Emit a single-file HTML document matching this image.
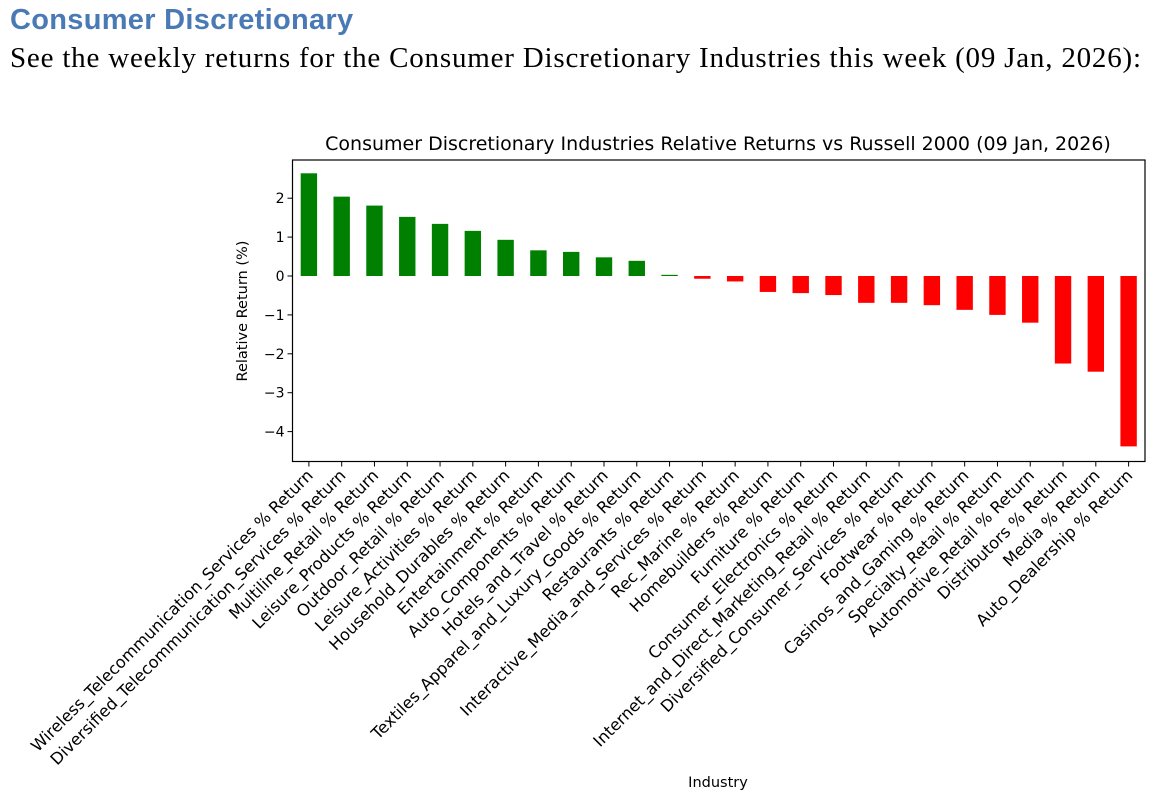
<!DOCTYPE html>
<html><head><meta charset="utf-8"><style>
body{margin:0;background:#fff;width:1150px;height:793px;overflow:hidden;}
h1{position:absolute;left:10px;top:4px;margin:0;font:bold 29px "Liberation Sans",sans-serif;color:#4a7ab5;letter-spacing:0.3px;}
p{position:absolute;left:10px;top:42px;margin:0;font:29px "Liberation Serif",serif;color:#000;letter-spacing:0.8px;white-space:nowrap;}
svg{position:absolute;left:0;top:0;}
text{font-family:"DejaVu Sans","Liberation Sans",sans-serif;}
</style></head><body>
<h1>Consumer Discretionary</h1>
<p>See the weekly returns for the Consumer Discretionary Industries this week (09 Jan, 2026):</p>
<svg id="chart" width="1150" height="793"></svg>
<script>
const categories=["Wireless_Telecommunication_Services % Return","Diversified_Telecommunication_Services % Return","Multiline_Retail % Return","Leisure_Products % Return","Outdoor_Retail % Return","Leisure_Activities % Return","Household_Durables % Return","Entertainment % Return","Auto_Components % Return","Hotels_and_Travel % Return","Textiles_Apparel_and_Luxury_Goods % Return","Restaurants % Return","Interactive_Media_and_Services % Return","Rec_Marine % Return","Homebuilders % Return","Furniture % Return","Consumer_Electronics % Return","Internet_and_Direct_Marketing_Retail % Return","Diversified_Consumer_Services % Return","Footwear % Return","Casinos_and_Gaming % Return","Specialty_Retail % Return","Automotive_Retail % Return","Distributors % Return","Media % Return","Auto_Dealership % Return"];
const values=[2.64,2.04,1.81,1.52,1.34,1.16,0.93,0.66,0.62,0.48,0.39,0.03,-0.07,-0.14,-0.41,-0.44,-0.49,-0.69,-0.69,-0.75,-0.87,-1.0,-1.2,-2.25,-2.46,-4.38];
const yTicks=[2,1,0,-1,-2,-3,-4];
const yTickLabels=["2","1","0","\u22121","\u22122","\u22123","\u22124"];
const NS="http://www.w3.org/2000/svg";
const svg=document.getElementById('chart');
const L=292.5,R=1145,T=160,B=461.5;
const y=v=>276-v*38.9;
const x=i=>L+(i+0.5)/26*(R-L);
const bw=(R-L)/26*0.5;
function mk(t,a){const e=document.createElementNS(NS,t);for(const k in a)e.setAttribute(k,a[k]);svg.appendChild(e);return e;}
values.forEach((v,i)=>{
 const r=mk('rect',{x:x(i)-bw/2,y:Math.min(y(v),y(0)),width:bw,height:Math.max(Math.abs(y(v)-y(0)),0.8),fill:v>=0?'#008000':'#ff0000'});
 
 
 mk('line',{x1:x(i),x2:x(i),y1:B,y2:B+5,stroke:'#000','stroke-width':1});
 const t=mk('text',{x:0,y:0,'text-anchor':'end','font-size':'16.3',transform:`translate(${x(i)+5},${B+15}) rotate(-45)`});
 t.textContent=categories[i];
 
 
});
yTicks.forEach((v,i)=>{
 mk('line',{x1:L-5,x2:L,y1:y(v),y2:y(v),stroke:'#000','stroke-width':1});
 const t=mk('text',{x:L-8,y:y(v)+5,'text-anchor':'end','font-size':'14'});
 t.textContent=yTickLabels[i];
 
 
});
const fr=mk('rect',{x:L,y:T,width:R-L,height:B-T,fill:'none',stroke:'#000','stroke-width':1.2});


const ti=mk('text',{x:718,y:150,'text-anchor':'middle','font-size':'19'});
ti.textContent="Consumer Discretionary Industries Relative Returns vs Russell 2000 (09 Jan, 2026)";


const yl=mk('text',{x:0,y:0,'text-anchor':'middle','font-size':'14.5',transform:'translate(247,311) rotate(-90)'});
yl.textContent="Relative Return (%)";


const xl=mk('text',{x:718,y:787,'text-anchor':'middle','font-size':'14.5'});
xl.textContent="Industry";


</script>
</body></html>
